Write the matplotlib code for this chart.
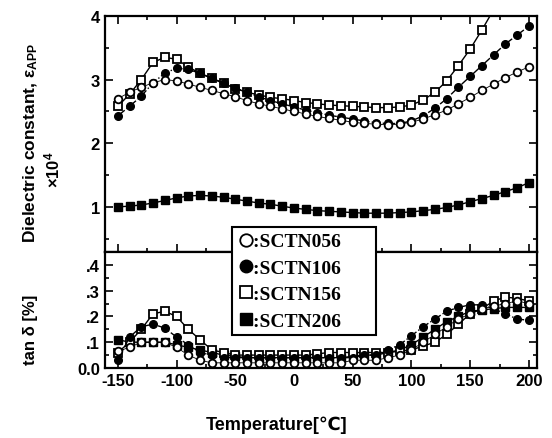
import matplotlib
matplotlib.use('Agg')
import matplotlib.pyplot as plt
from matplotlib.lines import Line2D
from matplotlib.ticker import MultipleLocator, FixedLocator, FixedFormatter

plt.rcParams['font.family'] = ['Liberation Sans', 'DejaVu Sans']
plt.rcParams['font.weight'] = 'bold'
plt.rcParams['mathtext.fontset'] = 'custom'
plt.rcParams['mathtext.rm'] = 'Liberation Sans:bold'
plt.rcParams['mathtext.it'] = 'Liberation Sans:bold'

# temperature points (deg C)
temp = [-150, -140, -130, -120, -110, -100, -90, -80, -70, -60, -50, -40,
        -30, -20, -10, 0, 10, 20, 30, 40, 50, 60, 70, 80, 90, 100, 110,
        120, 130, 140, 150, 160, 170, 180, 190, 200]

# dielectric constant (x 10^4)
eps_056 = [2.70, 2.80, 2.88, 2.95, 3.00, 2.98, 2.93, 2.88, 2.83, 2.78, 2.73, 2.67,
           2.62, 2.58, 2.54, 2.50, 2.46, 2.42, 2.39, 2.36, 2.33, 2.31, 2.30, 2.29,
           2.30, 2.33, 2.38, 2.45, 2.52, 2.62, 2.72, 2.83, 2.93, 3.03, 3.12, 3.20]
eps_106 = [2.43, 2.58, 2.74, 2.95, 3.10, 3.18, 3.16, 3.10, 3.02, 2.95, 2.87, 2.80,
           2.73, 2.67, 2.62, 2.57, 2.52, 2.48, 2.44, 2.41, 2.38, 2.35, 2.32, 2.31,
           2.31, 2.35, 2.43, 2.55, 2.70, 2.88, 3.05, 3.22, 3.39, 3.56, 3.70, 3.84]
eps_156 = [2.58, 2.77, 3.00, 3.27, 3.35, 3.32, 3.20, 3.10, 3.02, 2.94, 2.86, 2.80,
           2.76, 2.72, 2.70, 2.67, 2.64, 2.62, 2.60, 2.59, 2.58, 2.57, 2.56, 2.56,
           2.57, 2.60, 2.68, 2.80, 2.98, 3.22, 3.48, 3.78, 4.10, 4.45, 4.80, 5.20]
eps_206 = [1.00, 1.01, 1.03, 1.06, 1.10, 1.14, 1.17, 1.18, 1.17, 1.15, 1.12, 1.09,
           1.06, 1.04, 1.01, 0.98, 0.96, 0.94, 0.93, 0.92, 0.91, 0.90, 0.90, 0.90,
           0.91, 0.92, 0.94, 0.96, 0.99, 1.03, 1.08, 1.13, 1.18, 1.24, 1.30, 1.38]

# tan delta (%)
tan_056 = [0.065, 0.08, 0.10, 0.10, 0.10, 0.08, 0.05, 0.03, 0.02, 0.02, 0.02, 0.02,
           0.02, 0.02, 0.02, 0.02, 0.02, 0.02, 0.02, 0.02, 0.03, 0.03, 0.03, 0.04,
           0.05, 0.07, 0.10, 0.13, 0.16, 0.19, 0.21, 0.23, 0.24, 0.25, 0.26, 0.25]
tan_106 = [0.03, 0.12, 0.16, 0.17, 0.155, 0.12, 0.09, 0.06, 0.05, 0.04, 0.04, 0.04,
           0.04, 0.04, 0.04, 0.04, 0.04, 0.04, 0.04, 0.04, 0.04, 0.05, 0.05, 0.07,
           0.09, 0.125, 0.16, 0.19, 0.22, 0.235, 0.245, 0.245, 0.23, 0.21, 0.19, 0.185]
tan_156 = [0.06, 0.10, 0.15, 0.21, 0.22, 0.20, 0.15, 0.11, 0.07, 0.06, 0.05, 0.05,
           0.05, 0.05, 0.05, 0.05, 0.05, 0.055, 0.06, 0.06, 0.06, 0.06, 0.06, 0.06,
           0.065, 0.07, 0.085, 0.10, 0.13, 0.17, 0.21, 0.23, 0.26, 0.275, 0.27, 0.26]
tan_206 = [0.11, 0.10, 0.10, 0.10, 0.10, 0.09, 0.08, 0.07, 0.06, 0.05, 0.045, 0.04,
           0.04, 0.04, 0.04, 0.04, 0.04, 0.04, 0.04, 0.04, 0.045, 0.05, 0.05, 0.06,
           0.07, 0.09, 0.12, 0.15, 0.18, 0.20, 0.22, 0.225, 0.23, 0.235, 0.235, 0.235]

labels = [':SCTN056', ':SCTN106', ':SCTN156', ':SCTN206']

fig = plt.figure(figsize=(5.52, 4.39), dpi=100)
ax1 = fig.add_axes([0.190, 0.4237, 0.783, 0.5376])
ax2 = fig.add_axes([0.190, 0.1595, 0.783, 0.2642])

open_c = dict(marker='o', ms=5.5, mfc='white', mec='black', mew=1.3, color='black')
fill_c = dict(marker='o', ms=5.5, mfc='black', mec='black', color='black')
open_s = dict(marker='s', ms=5.2, mfc='white', mec='black', mew=1.3, color='black')
fill_s = dict(marker='s', ms=5.2, mfc='black', mec='black', color='black')

for ax, d in [(ax1, (eps_056, eps_106, eps_156, eps_206)),
              (ax2, (tan_056, tan_106, tan_156, tan_206))]:
    ax.plot(temp, d[3], lw=1.0, ls='-', **fill_s)
    ax.plot(temp, d[2], lw=1.0, ls='-', **open_s)
    ax.plot(temp, d[1], lw=1.0, ls='-.', **fill_c)
    ax.plot(temp, d[0], lw=0.6, ls='-', **open_c)
    ax.set_xlim(-161, 207)
    ax.xaxis.set_major_locator(MultipleLocator(50))
    ax.xaxis.set_minor_locator(MultipleLocator(25))
    for s in ax.spines.values():
        s.set_linewidth(1.6)
    ax.tick_params(which='both', direction='in', width=1.2, labelsize=12,
                   right=True)
    ax.tick_params(which='major', length=6)
    ax.tick_params(which='minor', length=3)

ax1.set_ylim(0.29, 4.0)
ax1.yaxis.set_major_locator(MultipleLocator(1))
ax1.yaxis.set_minor_locator(MultipleLocator(0.5))
ax1.tick_params(which='both', top=True, labelbottom=False)

ax2.set_ylim(0, 0.45)
ax2.yaxis.set_major_locator(FixedLocator([0, 0.1, 0.2, 0.3, 0.4]))
ax2.yaxis.set_major_formatter(FixedFormatter(['0.0', '.1', '.2', '.3', '.4']))
ax2.yaxis.set_minor_locator(MultipleLocator(0.05))
ax2.tick_params(which='both', top=False)
ax2.set_xticks([-150, -100, -50, 0, 50, 100, 150, 200])
ax2.set_xticklabels(['-150', '-100', '-50', '0', '50', '100', '150', '200'])

# legend with markers only
handles = [Line2D([], [], ls='none', marker='o', ms=9, mfc='white', mec='black', mew=1.3),
           Line2D([], [], ls='none', marker='o', ms=9, mfc='black', mec='black'),
           Line2D([], [], ls='none', marker='s', ms=9, mfc='white', mec='black', mew=1.3),
           Line2D([], [], ls='none', marker='s', ms=9, mfc='black', mec='black')]
leg = fig.legend(handles, [s + '\u2007\u2007\u2007' for s in labels], loc='upper left',
                 bbox_to_anchor=(232 / 552, 1 - 228 / 439), borderaxespad=0,
                 prop={'family': 'Liberation Serif', 'weight': 'bold', 'size': 14},
                 handlelength=0.8, handletextpad=0.0, labelspacing=0.45,
                 borderpad=0.3, fancybox=False, framealpha=1, edgecolor='black')
leg.get_frame().set_linewidth(1.5)

fig.text(31 / 552, 1 - 243 / 439, r'Dielectric constant, ε$_{\mathrm{APP}}$',
         rotation=90, ha='center', va='bottom', fontsize=12.5, fontweight='bold')
fig.text(52 / 552, 1 - 170 / 439, '×10$^{4}$', rotation=90, ha='center',
         va='center', fontsize=12, fontweight='bold')
fig.text(31 / 552, 1 - 330 / 439, 'tan δ [%]', rotation=90, ha='center',
         va='center', fontsize=12, fontweight='bold')
fig.text(277 / 552, 1 - 425 / 439, 'Temperature[℃]', ha='center', va='center',
         fontsize=13, fontweight='bold')

fig.savefig('out.png', dpi=100)
